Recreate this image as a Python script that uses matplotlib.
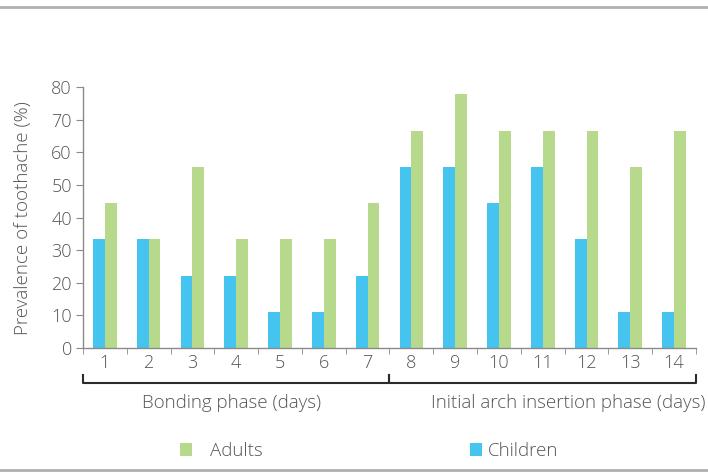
import numpy as np
import matplotlib
matplotlib.use("Agg")
import matplotlib.pyplot as plt
from matplotlib.lines import Line2D

# ---- data ----
days = ["1", "2", "3", "4", "5", "6", "7", "8", "9", "10", "11", "12", "13", "14"]
children = [33.3, 33.3, 22.2, 22.2, 11.1, 11.1, 22.2, 55.6, 55.6, 44.4, 55.6, 33.3, 11.1, 11.1]
adults = [44.4, 33.3, 55.6, 33.3, 33.3, 33.3, 44.4, 66.7, 77.8, 66.7, 66.7, 66.7, 55.6, 66.7]
phases = ["Bonding phase (days)", "Initial arch insertion phase (days)"]
phase_days = [7, 7]

blue = "#45c4ef"
green = "#b6d98c"
txt = "#555555"
spine = "#8a8a8a"
fs = 13.5   # labels
tfs = 13    # tick labels

plt.rcParams["font.family"] = ["Open Sans", "DejaVu Sans"]
plt.rcParams["font.weight"] = 300
plt.rcParams["axes.labelweight"] = 300

fig = plt.figure(figsize=(7.08, 4.76), dpi=100)
ax = fig.add_axes([0.1172, 0.2689, 0.8658, 0.548])

x = np.arange(len(days))
w = 0.27
b_ch = ax.bar(x - w / 2, children, w, color=blue, label="Children")
b_ad = ax.bar(x + w / 2, adults, w, color=green, label="Adults")

ax.set_xlim(-0.5, len(days) - 0.5)
ax.set_ylim(0, 80)
ax.set_yticks(np.arange(0, 81, 10))
ax.set_xticks(x)
ax.set_xticklabels(days)
ax.set_xticks(np.arange(-0.5, len(days), 1), minor=True)
ax.tick_params(axis="x", which="major", length=0, pad=4, labelsize=tfs, colors=txt)
ax.tick_params(axis="x", which="minor", length=4, color=spine, direction="out")
ax.tick_params(axis="y", length=5, color=spine, labelsize=tfs, labelcolor=txt, pad=3)
for s in ["top", "right"]:
    ax.spines[s].set_visible(False)
for s in ["left", "bottom"]:
    ax.spines[s].set_color(spine)
    ax.spines[s].set_linewidth(1.0)

ax.set_ylabel("Prevalence of toothache (%)", fontsize=fs, color=txt, labelpad=14)

# phase brackets under the day labels
tr = ax.get_xaxis_transform()
start = -0.5
for name, n in zip(phases, phase_days):
    end = start + n
    ax.add_line(Line2D([start, start, end, end], [-0.103, -0.134, -0.134, -0.103],
                       transform=tr, color="#2b2b2b", lw=1.5, clip_on=False))
    start = end
ax.text(2.9, -0.21, phases[0], transform=tr, ha="center", va="center",
        fontsize=fs, color=txt)
ax.text(13.72, -0.21, phases[1], transform=tr, ha="right", va="center",
        fontsize=fs, color=txt)

# two separate legend entries, as in the source
leg1 = fig.legend(handles=[b_ad], labels=["Adults"], loc="center left",
                  bbox_to_anchor=(0.23, 0.052), frameon=False,
                  handlelength=0.65, handleheight=0.65, handletextpad=0.95,
                  fontsize=fs, labelcolor=txt)
leg2 = fig.legend(handles=[b_ch], labels=["Children"], loc="center left",
                  bbox_to_anchor=(0.64, 0.052), frameon=False,
                  handlelength=0.65, handleheight=0.65, handletextpad=0.3,
                  fontsize=fs, labelcolor=txt)

# grey rules top and bottom of the panel
fig.add_artist(Line2D([0, 1], [0.986, 0.986], transform=fig.transFigure, color="#b0b0b0", lw=2))
fig.add_artist(Line2D([0, 1], [0.013, 0.013], transform=fig.transFigure, color="#b0b0b0", lw=2))

fig.savefig("out.png", dpi=100)
